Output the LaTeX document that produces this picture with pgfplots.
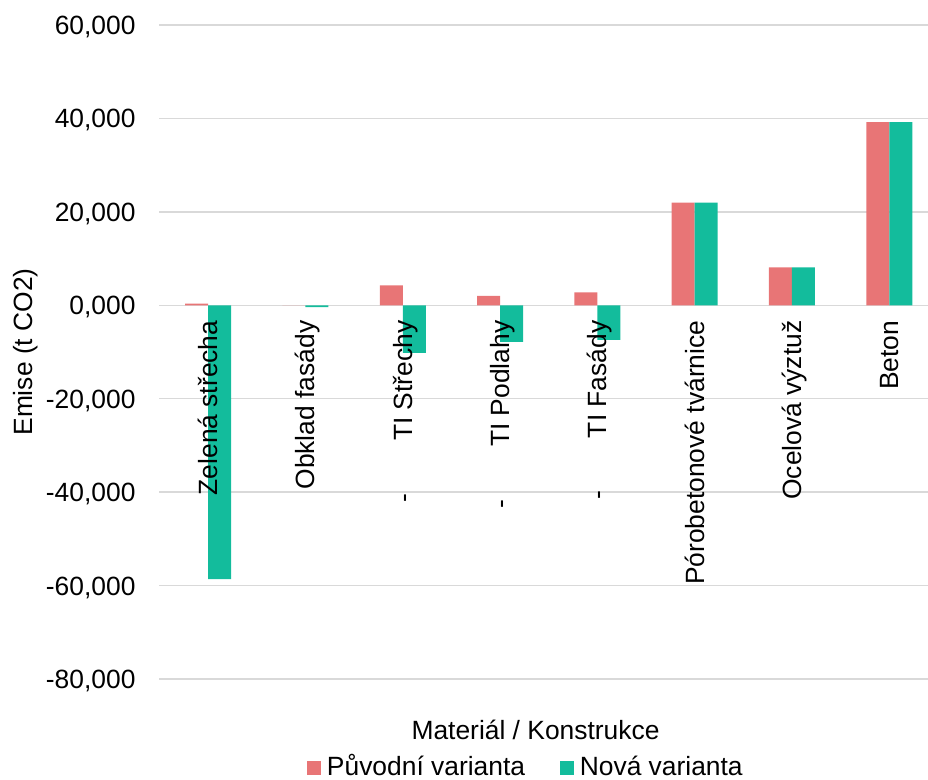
\documentclass[border=0pt]{standalone}
\usepackage{fontspec}
\setmainfont{Liberation Sans}
\usepackage{pgfplots}
\pgfplotsset{compat=1.18}

\definecolor{puvodni}{HTML}{E87576}
\definecolor{nova}{HTML}{13BC9C}
\definecolor{gridgray}{HTML}{D9D9D9}

\pgfplotsset{
  sq legend/.style={legend image code/.code={\fill[##1] (0pt,0pt) rectangle (7pt,7pt);}},
  % shared geometry of the bar axis and the category-name overlay
  emisegeom/.style={
    at={(0pt,0pt)}, anchor=south west,
    scale only axis, width=384.25pt, height=327pt,
    xmin=-0.5, xmax=7.398,
    ymin=-80, ymax=60,
    axis x line*=middle, axis y line*=left,
    hide obscured y ticks=false,
    hide obscured x ticks=false,
    axis line style={draw=none},
    major tick length=0pt,
    xtick={0,1,2,3,4,5,6,7},
  },
}

\begin{document}
\begin{tikzpicture}[font=\fontsize{13.2}{15.8}\selectfont]
\begin{axis}[
  emisegeom,
  ybar=0pt, bar width=11.5pt,
  ymajorgrids, xmajorgrids=false,
  grid style={gridgray, line width=0.75pt},
  ytick={-80,-60,-40,-20,0,20,40,60},
  yticklabels={{-80,000},{-60,000},{-40,000},{-20,000},{0,000},{20,000},{40,000},{60,000}},
  yticklabel style={anchor=east, inner sep=0pt, text height=9.45pt, text depth=0pt},
  yticklabel shift=11.8pt,
  xticklabels={},
  xlabel={Materiál / Konstrukce},
  xlabel style={at={(axis description cs:0.4893,-0.0922)}, anchor=base, inner sep=0pt},
  ylabel={Emise (t CO2)},
  ylabel style={at={(axis description cs:-0.1647,0.5)}, anchor=base, rotate=0, inner sep=0pt},
  legend columns=2,
  legend style={at={(axis description cs:0.1923,-0.1515)}, anchor=south west,
    draw=none, fill=none, inner sep=0pt, outer sep=0pt,
    nodes={inner sep=0pt},
    cells={anchor=base west},
    /tikz/every odd column/.append style={column sep=2.85pt},
    /tikz/every even column/.append style={column sep=17.5pt}},
]
\addplot[fill=puvodni, draw=none, sq legend] coordinates {
  (0,0.35) (1,0) (2,4.28) (3,2.0) (4,2.78) (5,22.0) (6,8.14) (7,39.19)
};
\addplot[fill=nova, draw=none, sq legend] coordinates {
  (0,-58.6) (1,-0.4) (2,-10.2) (3,-7.85) (4,-7.43) (5,22.0) (6,8.14) (7,39.19)
};
\legend{Původní varianta, Nová varianta}
\end{axis}
% category names, printed over the bars
\begin{axis}[
  emisegeom,
  ytick=\empty,
  xticklabels={Zelená střecha, Obklad fasády, -\hspace{26.5pt}TI Střechy, -\hspace{26.5pt}TI Podlahy, -\hspace{26.5pt}TI Fasády, Pórobetonové tvárnice, Ocelová výztuž, Beton},
  xticklabel style={rotate=90, anchor=east, inner sep=0pt, text height=9.45pt, text depth=0pt},
  xticklabel shift=7.5pt,
]
\end{axis}
\pgfresetboundingbox
\path[use as bounding box] (-79.75pt,-50.5pt) rectangle (384.25pt,339.5pt);
\end{tikzpicture}
\end{document}
